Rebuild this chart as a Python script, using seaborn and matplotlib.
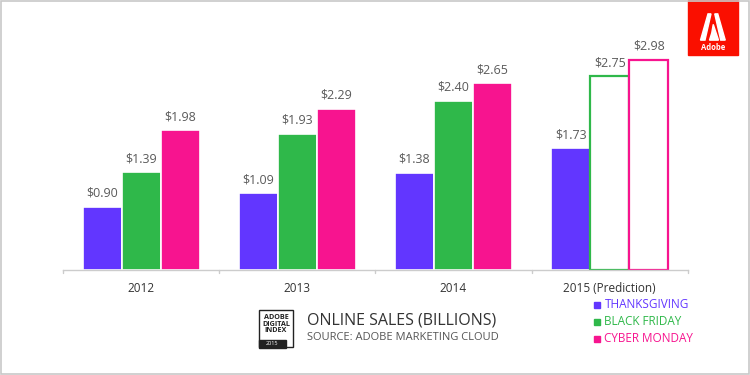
import numpy as np
import pandas as pd
import matplotlib.pyplot as plt
import matplotlib.patches as mpatches
import seaborn as sns

# chart data
years = ['2012', '2013', '2014', '2015 (Prediction)']
thanksgiving = [0.90, 1.09, 1.38, 1.73]
black_friday = [1.39, 1.93, 2.40, 2.75]
cyber_monday = [1.98, 2.29, 2.65, 2.98]
series_names = ['THANKSGIVING', 'BLACK FRIDAY', 'CYBER MONDAY']
colors = ['#6236FF', '#2FB84A', '#F7148F']

df = pd.DataFrame({
    'year': years * 3,
    'sales': thanksgiving + black_friday + cyber_monday,
    'day': [n for n in series_names for _ in years],
})

sns.set_style('white')
plt.rcParams['font.family'] = ['Open Sans', 'DejaVu Sans']

fig = plt.figure(figsize=(7.5, 3.75), dpi=100)
fig.patch.set_facecolor('white')
ax = fig.add_axes([0.084, 0.28, 0.833, 0.6016])

sns.barplot(data=df, x='year', y='sales', hue='day', palette=colors,
            width=0.75, ax=ax, legend=False, edgecolor='white', linewidth=1.2,
            saturation=1)

ax.set_xlim(-0.5, 3.5)
ax.set_ylim(0, 3.2)

# prediction bars drawn as outlines
for cont, col in zip(ax.containers, colors):
    for i, bar in enumerate(cont):
        if i == 3 and col != colors[0]:
            bar.set_facecolor('white')
            bar.set_edgecolor(col)
            bar.set_linewidth(1.6)
    ax.bar_label(cont, labels=['$%.2f' % v for v in cont.datavalues],
                 padding=5, fontsize=9, color='#5a5a5a')

for s in ['top', 'right', 'left']:
    ax.spines[s].set_visible(False)
ax.spines['bottom'].set_color('#cccccc')
ax.spines['bottom'].set_linewidth(1)
ax.set_yticks([])
ax.set_xlabel('')
ax.set_ylabel('')
ax.set_xticks(range(4))
ax.set_xticklabels(years, fontsize=8.5, color='#333333')
ax.tick_params(axis='x', length=0, pad=9)
# small separator ticks between groups
for xs in [-0.5, 0.5, 1.5, 2.5, 3.5]:
    ax.plot([xs, xs], [0, -0.04], color='#cccccc', lw=1, clip_on=False)

# legend
for k, (name, col) in enumerate(zip(series_names, colors)):
    y = 0.187 - k * 0.045
    fig.patches.append(mpatches.Rectangle((0.792, y - 0.009), 0.008, 0.016,
                                          transform=fig.transFigure, color=col))
    fig.text(0.806, y, name, color=col, fontsize=8.5, va='center')

# title block
fig.text(0.409, 0.145, 'ONLINE SALES (BILLIONS)', fontsize=11.5, color='#333333', va='center')
fig.text(0.409, 0.101, 'SOURCE: ADOBE MARKETING CLOUD', fontsize=8, color='#555555', va='center')

# adobe digital index badge
fig.patches.append(mpatches.Rectangle((0.345, 0.075), 0.046, 0.098, transform=fig.transFigure,
                                      fill=False, edgecolor='#222222', lw=1))
fig.patches.append(mpatches.Rectangle((0.345, 0.072), 0.036, 0.022, transform=fig.transFigure,
                                      color='#222222'))
fig.text(0.368, 0.136, 'ADOBE\nDIGITAL\nINDEX', fontsize=5.2, fontweight='bold',
         ha='center', va='center', color='#222222', linespacing=0.95)
fig.text(0.363, 0.083, '2015', fontsize=4, color='white', ha='center', va='center')

# adobe logo
fig.patches.append(mpatches.Rectangle((0.917, 0.853), 0.067, 0.147, transform=fig.transFigure,
                                      color='#FA0F00'))
fig.patches.append(mpatches.Polygon([(0.934, 0.893), (0.944, 0.963), (0.948, 0.963), (0.940, 0.893)],
                                    transform=fig.transFigure, color='white'))
fig.patches.append(mpatches.Polygon([(0.953, 0.963), (0.957, 0.963), (0.967, 0.893), (0.961, 0.893)],
                                    transform=fig.transFigure, color='white'))
fig.patches.append(mpatches.Polygon([(0.951, 0.935), (0.958, 0.893), (0.946, 0.893), (0.949, 0.912)],
                                    transform=fig.transFigure, color='white'))
fig.text(0.9505, 0.872, 'Adobe', fontsize=5.5, fontweight='bold', color='white',
         ha='center', va='center')

# thin frame
fig.patches.append(mpatches.Rectangle((0.001, 0.002), 0.997, 0.996, transform=fig.transFigure,
                                      fill=False, edgecolor='#c8c8c8', lw=1.2))

fig.savefig('out.png', dpi=100)
